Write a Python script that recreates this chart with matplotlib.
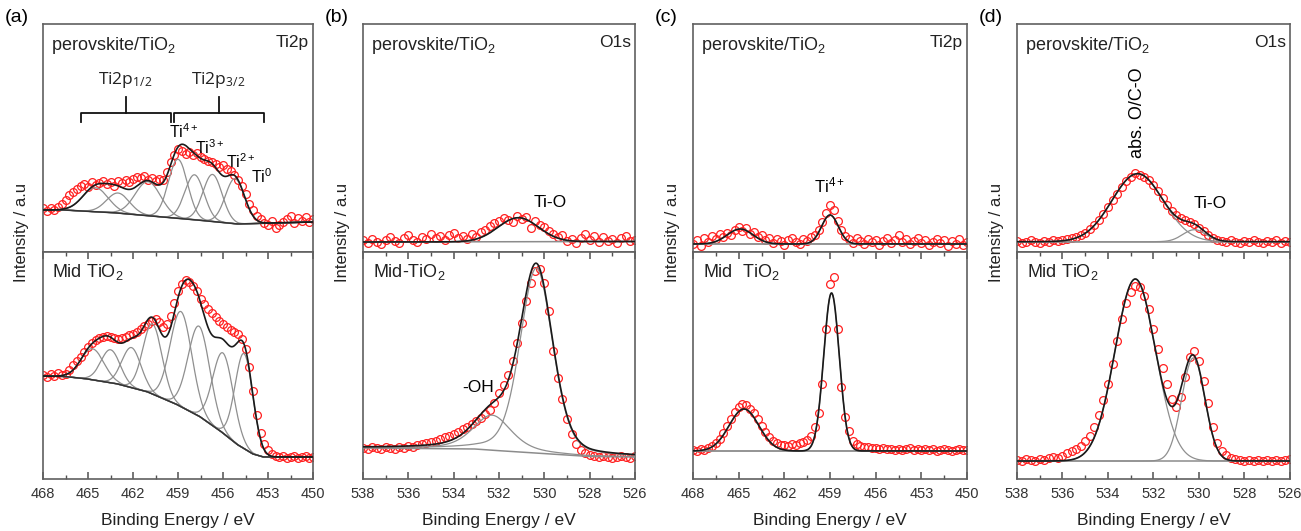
import numpy as np
import matplotlib.pyplot as plt
from matplotlib.ticker import MultipleLocator

plt.rcParams['font.family'] = ['Liberation Sans', 'DejaVu Sans']
plt.rcParams['mathtext.default'] = 'regular'

# Energy grids (measurement steps)
ti_e = np.linspace(468, 450, 73)
o_e = np.linspace(538, 526, 61)

# ---- (a) Ti2p, perovskite/TiO2 and Mid TiO2 ----
a_top_y = [44, 41, 44, 42, 45, 48, 52, 57, 60, 63,
           66, 68, 65, 70, 67, 69, 71, 68, 70, 66,
           71, 69, 72, 70, 73, 75, 74, 76, 72, 74,
           71, 73, 72, 80, 90, 97, 103, 101, 98, 100,
           97, 99, 95, 93, 91, 90, 88, 85, 87, 83,
           81, 77, 72, 66, 58, 48, 42, 36, 33, 29,
           27, 31, 24, 27, 30, 33, 36, 29, 34, 31,
           35, 30, 33]
a_top_base_x = [468, 466.5, 463, 460, 457, 455, 454, 450]
a_top_base_y = [42, 42, 39, 35, 31, 28, 28.5, 30]
a_top_cen = [464.5, 463.0, 461.0, 459.0, 457.9, 456.7, 455.2]
a_top_amp = [24, 20, 34, 59, 45, 47, 45]
a_top_fwhm = [2.0, 1.8, 2.0, 1.5, 1.5, 1.5, 1.5]

a_bot_y = [104, 102, 105, 103, 106, 104, 105, 109, 114, 118,
           122, 127, 132, 136, 139, 141, 142, 143, 142, 141,
           140, 141, 142, 144, 145, 147, 150, 153, 155, 158,
           160, 157, 152, 155, 163, 176, 188, 195, 199, 197,
           193, 188, 180, 175, 170, 166, 162, 158, 155, 152,
           149, 147, 145, 140, 130, 112, 88, 64, 46, 35,
           29, 25, 23, 22, 23, 21, 22, 23, 21, 22,
           23, 21, 22]
a_bot_base_x = [468, 466.5, 465, 463, 461, 459, 457.5, 456, 455, 454, 453.3, 450]
a_bot_base_y = [103, 102.5, 100, 95, 87, 74, 62, 46, 34, 25, 22, 22]
a_bot_cen = [464.7, 463.5, 462.1, 460.7, 458.8, 457.6, 456.0, 454.6]
a_bot_amp = [31, 33, 40, 70, 95, 90, 80, 95]
a_bot_fwhm = [1.8, 1.5, 1.5, 1.5, 1.7, 1.7, 1.6, 1.4]

# ---- (b) O1s ----
b_top_y = [12, 9, 13, 10, 8, 12, 15, 11, 9, 14,
           17, 12, 10, 15, 13, 18, 14, 16, 12, 17,
           19, 14, 16, 13, 18, 15, 20, 22, 26, 29,
           31, 34, 32, 30, 36, 33, 35, 24, 31, 27,
           25, 21, 18, 15, 17, 11, 13, 9, 14, 18,
           12, 16, 10, 15, 11, 13, 9, 14, 16, 11,
           12]
b_top_base_x = [538, 526]
b_top_base_y = [10, 10.5]
b_top_cen = [531.15]
b_top_amp = [24]
b_top_fwhm = [2.1]

b_bot_y = [31, 30, 32, 31, 30, 32, 31, 30, 32, 31,
           33, 32, 34, 35, 36, 37, 38, 40, 42, 43,
           45, 47, 50, 52, 55, 58, 61, 65, 69, 76,
           86, 94, 104, 118, 136, 156, 178, 196, 208, 210,
           196, 168, 128, 101, 80, 60, 45, 35, 29, 26,
           24, 23, 22, 23, 22, 21, 22, 23, 22, 21,
           23]
b_bot_base_x = [538, 533, 531.5, 528, 526]
b_bot_base_y = [31, 30, 27.5, 22.5, 22]
b_bot_cen = [532.3, 530.35]
b_bot_amp = [35, 185]
b_bot_fwhm = [2.0, 1.7]
b_bot_mix = [0.5, 0.3]

# ---- (c) Ti2p ----
c_top_y = [8, 12, 6, 14, 10, 16, 13, 18, 15, 19,
           17, 22, 25, 21, 24, 18, 20, 15, 17, 12,
           14, 9, 13, 11, 7, 12, 14, 10, 8, 13,
           11, 15, 17, 22, 30, 39, 47, 42, 31, 22,
           16, 13, 9, 14, 11, 8, 13, 10, 12, 7,
           11, 14, 9, 12, 17, 10, 13, 8, 11, 14,
           9, 12, 7, 10, 13, 9, 12, 6, 11, 8,
           13, 7, 10]
c_top_base_x = [468, 450]
c_top_base_y = [8, 8]
c_top_cen = [464.9, 459.0]
c_top_amp = [15, 29]
c_top_fwhm = [2.0, 1.3]

c_bot_y = [29, 28, 30, 29, 31, 33, 36, 40, 46, 53,
           60, 67, 72, 75, 74, 70, 66, 60, 53, 47,
           42, 38, 36, 34, 34, 33, 35, 34, 36, 37,
           39, 43, 52, 66, 95, 150, 195, 202, 150, 92,
           62, 48, 38, 35, 33, 32, 32, 31, 31, 30,
           31, 30, 30, 29, 30, 29, 30, 31, 29, 30,
           29, 30, 29, 30, 28, 29, 30, 29, 28, 29,
           30, 29, 29]
c_bot_base_x = [468, 450]
c_bot_base_y = [28, 28]
c_bot_cen = [464.65, 458.9]
c_bot_amp = [42, 158]
c_bot_fwhm = [2.3, 1.2]

# ---- (d) O1s ----
d_top_y = [11, 9, 10, 12, 10, 9, 11, 10, 12, 11,
           12, 13, 14, 15, 17, 19, 23, 27, 32, 38,
           45, 52, 58, 65, 71, 75, 79, 77, 75, 72,
           67, 61, 54, 47, 41, 37, 34, 32, 30, 28,
           24, 21, 17, 14, 12, 11, 10, 12, 10, 9,
           11, 10, 12, 10, 9, 11, 10, 12, 9, 11,
           10]
d_top_base_x = [538, 526]
d_top_base_y = [10.3, 10.3]
d_top_cen = [532.7, 530.2]
d_top_amp = [68, 12]
d_top_fwhm = [2.65, 1.2]

d_bot_y = [19, 18, 20, 19, 18, 20, 19, 21, 22, 21,
           23, 26, 28, 30, 33, 38, 43, 52, 64, 79,
           95, 115, 138, 160, 176, 187, 193, 192, 183, 170,
           150, 130, 111, 95, 80, 72, 82, 102, 122, 128,
           118, 98, 76, 52, 36, 28, 24, 21, 20, 19,
           18, 19, 18, 19, 18, 19, 18, 19, 18, 19,
           20]
d_bot_base_x = [538, 526]
d_bot_base_y = [18, 18]
d_bot_cen = [532.8, 530.25]
d_bot_amp = [182, 103]
d_bot_fwhm = [2.1, 1.2]


def peak(x, c, a, w, m=0.0):
    g = np.exp(-4 * np.log(2) * ((x - c) / w) ** 2)
    lor = 1 / (1 + 4 * ((x - c) / w) ** 2)
    return a * ((1 - m) * g + m * lor)


W, H = 1301, 531
fig = plt.figure(figsize=(W / 100, H / 100), dpi=100)


def px_axes(l, t, r, b):
    return fig.add_axes([l / W, 1 - b / H, (r - l) / W, (b - t) / H])


def draw(ax, e, y, bx, by, cen, amp, fwhm, mix=None, base_col='#8c8c8c'):
    lo, hi = min(e), max(e)
    fine = np.linspace(lo, hi, 800)
    base = np.interp(fine, bx[::-1], by[::-1])
    if mix is None:
        mix = [0.0] * len(cen)
    ax.plot(e, y, 'o', mfc='none', mec='#ff2020', ms=5.6, mew=0.9, zorder=2)
    total = base.copy()
    for c, a, w, m in zip(cen, amp, fwhm, mix):
        p = peak(fine, c, a, w, m)
        total += p
        ax.plot(fine, base + p, color='#8f8f8f', lw=0.9, zorder=3)
    ax.plot(fine, base, color=base_col, lw=1.1, zorder=3)
    ax.plot(fine, total, color='#1a1a1a', lw=1.2, zorder=4)


def style(ax, xlim, major, minor, bottom):
    ax.set_xlim(xlim)
    for s in ax.spines.values():
        s.set_color('#606060')
        s.set_linewidth(1.2)
    ax.set_yticks([])
    if bottom:
        ax.set_ylim(0, 227)
        ax.xaxis.set_major_locator(MultipleLocator(major))
        ax.xaxis.set_minor_locator(MultipleLocator(minor))
        ax.tick_params(axis='x', which='both', direction='in', top=True,
                       bottom=True, color='#505050', labelsize=10.5,
                       labelcolor='#333333', pad=6)
        ax.tick_params(axis='x', which='major', length=5, width=1.1)
        ax.tick_params(axis='x', which='minor', length=3, width=1.0)
    else:
        ax.set_ylim(0, 228)
        ax.set_xticks([])


panels = [
    ('(a)', 43, 313, (468, 450), 3, 1.5, ti_e,
     (a_top_y, a_top_base_x, a_top_base_y, a_top_cen, a_top_amp, a_top_fwhm, None),
     (a_bot_y, a_bot_base_x, a_bot_base_y, a_bot_cen, a_bot_amp, a_bot_fwhm, None),
     'Ti2p', 'Mid TiO$_2$', '#333333'),
    ('(b)', 363, 635, (538, 526), 2, 1, o_e,
     (b_top_y, b_top_base_x, b_top_base_y, b_top_cen, b_top_amp, b_top_fwhm, None),
     (b_bot_y, b_bot_base_x, b_bot_base_y, b_bot_cen, b_bot_amp, b_bot_fwhm, b_bot_mix),
     'O1s', 'Mid-TiO$_2$', '#8c8c8c'),
    ('(c)', 693, 967, (468, 450), 3, 1.5, ti_e,
     (c_top_y, c_top_base_x, c_top_base_y, c_top_cen, c_top_amp, c_top_fwhm, None),
     (c_bot_y, c_bot_base_x, c_bot_base_y, c_bot_cen, c_bot_amp, c_bot_fwhm, None),
     'Ti2p', 'Mid  TiO$_2$', '#8c8c8c'),
    ('(d)', 1017, 1290, (538, 526), 2, 1, o_e,
     (d_top_y, d_top_base_x, d_top_base_y, d_top_cen, d_top_amp, d_top_fwhm, None),
     (d_bot_y, d_bot_base_x, d_bot_base_y, d_bot_cen, d_bot_amp, d_bot_fwhm, None),
     'O1s', 'Mid TiO$_2$', '#8c8c8c'),
]

axes = []
for lab, l, r, xlim, major, minor, e, top, bot, core, midlab, bcol in panels:
    ax_t = px_axes(l, 24, r, 252)
    ax_b = px_axes(l, 252, r, 479)
    draw(ax_t, e, *top[:6], mix=top[6], base_col=bcol)
    draw(ax_b, e, *bot[:6], mix=bot[6], base_col=bcol)
    style(ax_t, xlim, major, minor, False)
    style(ax_b, xlim, major, minor, True)
    ax_t.text(0.03, 0.905, 'perovskite/TiO$_2$', transform=ax_t.transAxes,
              fontsize=13, color='#222222', va='center')
    ax_t.text(0.985, 0.92, core, transform=ax_t.transAxes, fontsize=12.5,
              color='#222222', va='center', ha='right')
    ax_b.text(0.035, 0.91, midlab, transform=ax_b.transAxes, fontsize=13,
              color='#222222', va='center')
    fig.text((l - 38) / W, 1 - 18 / H, lab, fontsize=14, va='center', ha='left')
    fig.text((l - 21) / W, 1 - 232 / H, 'Intensity / a.u', rotation=90,
             fontsize=12, va='center', ha='center', color='#222222')
    fig.text((l + r) / 2 / W, 1 - 521 / H, 'Binding Energy / eV',
             fontsize=12.5, va='center', ha='center', color='#222222')
    axes.append((ax_t, ax_b))

# annotations (a)
ax = axes[0][0]
for x0, x1 in [(465.5, 459.5), (459.3, 453.3)]:
    xm = (x0 + x1) / 2
    ax.plot([x0, x0, x1, x1], [130, 139, 139, 130], color='#111111', lw=1.3)
    ax.plot([xm, xm], [139, 155], color='#111111', lw=1.3)
ax.text(462.5, 172, 'Ti2p$_{1/2}$', fontsize=12.5, ha='center', va='center',
        family=['Open Sans', 'DejaVu Sans'], color='#222222')
ax.text(456.3, 172, 'Ti2p$_{3/2}$', fontsize=12.5, ha='center', va='center',
        family=['Open Sans', 'DejaVu Sans'], color='#222222')
ax.text(458.6, 120, 'Ti$^{4+}$', fontsize=11.5, ha='center', va='center')
ax.text(456.9, 104, 'Ti$^{3+}$', fontsize=11.5, ha='center', va='center')
ax.text(454.8, 90, 'Ti$^{2+}$', fontsize=11.5, ha='center', va='center')
ax.text(453.4, 75, 'Ti$^{0}$', fontsize=11.5, ha='center', va='center')

# annotations (b)
axes[1][0].text(529.75, 50, 'Ti-O', fontsize=12.5, ha='center', va='center')
axes[1][1].text(532.9, 92, '-OH', fontsize=12.5, ha='center', va='center')

# annotations (c)
axes[2][0].text(459.0, 67, 'Ti$^{4+}$', fontsize=12, ha='center', va='center')

# annotations (d)
axes[3][0].text(532.7, 139, 'abs. O/C-O', fontsize=13, ha='center',
                va='center', rotation=90)
axes[3][0].text(529.5, 49, 'Ti-O', fontsize=12.5, ha='center', va='center')

fig.savefig('out.png', dpi=100)
